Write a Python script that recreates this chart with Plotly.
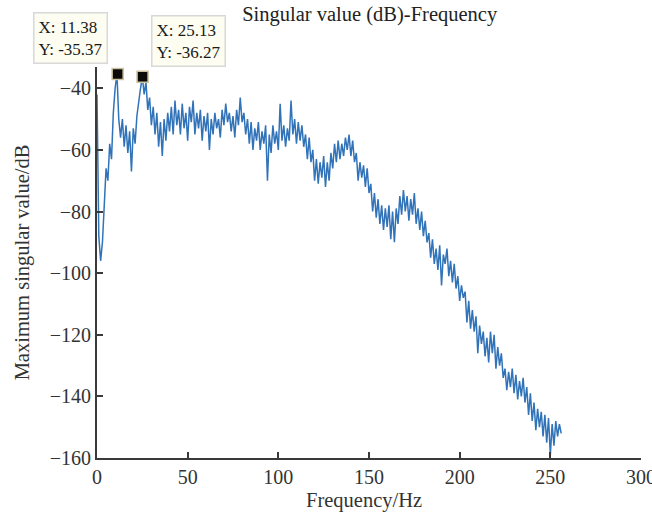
import plotly.graph_objects as go

# Frequency grid (Hz) and maximum singular value (dB)
freq_start = 0
freq_step = 1.0
sv_db = [
    -42, -88, -96, -90, -78, -66, -70, -58, -63, -48,
    -40, -35.4, -50, -56, -50, -59, -52, -61, -54, -67,
    -53, -58, -49, -44, -40, -36.3, -42, -38, -47, -43,
    -52, -46, -55, -48, -59, -51, -62, -50, -57, -48,
    -54, -46, -55, -44, -52, -47, -55, -45, -53, -48,
    -57, -46, -51, -44, -55, -48, -53, -47, -57, -49,
    -54, -48, -60, -50, -55, -48, -53, -50, -56, -47,
    -52, -45, -51, -48, -54, -49, -56, -47, -52, -43,
    -51, -48, -55, -50, -58, -51, -60, -53, -57, -51,
    -60, -54, -58, -52, -70, -55, -61, -52, -58, -54,
    -60, -45, -57, -52, -59, -53, -57, -44, -55, -50,
    -58, -51, -57, -52, -59, -55, -63, -56, -64, -60,
    -70, -63, -71, -64, -69, -62, -72, -64, -70, -61,
    -66, -58, -64, -57, -63, -58, -62, -56, -60, -55,
    -62, -57, -64, -61, -70, -64, -69, -65, -72, -66,
    -74, -71, -80, -74, -82, -76, -84, -78, -86, -79,
    -85, -78, -89, -80, -90, -79, -84, -75, -81, -73,
    -80, -75, -83, -76, -81, -74, -84, -79, -86, -80,
    -88, -83, -90, -87, -95, -89, -97, -92, -99, -91,
    -104, -94, -97, -92, -101, -96, -103, -97, -105, -101,
    -109, -104, -108, -106, -116, -109, -118, -112, -119, -114,
    -126, -117, -123, -119, -127, -121, -129, -119, -126, -120,
    -131, -124, -130, -126, -134, -131, -138, -132, -137, -131,
    -139, -133, -141, -135, -140, -134, -142, -137, -146, -139,
    -148, -142, -151, -144, -150, -145, -153, -146, -155, -147,
    -159, -149, -156, -148, -153, -149, -152,
]
freq_hz = [freq_start + i * freq_step for i in range(len(sv_db))]

# Data tips
tip_x = [11.38, 25.13]
tip_y = [-35.37, -36.27]

x_ticks = [0, 50, 100, 150, 200, 250, 300]
y_ticks = [-160, -140, -120, -100, -80, -60, -40]

FONT = "Liberation Serif"
AXIS_COLOR = "#3a3a3a"
TEXT_COLOR = "#333333"

fig = go.Figure()
fig.add_trace(go.Scatter(
    x=freq_hz, y=sv_db, mode="lines",
    line=dict(color="#3173b9", width=1.5),
    showlegend=False, hoverinfo="skip",
))
fig.add_trace(go.Scatter(
    x=tip_x, y=tip_y, mode="markers",
    marker=dict(symbol="square", size=11, color="#0a0a0a",
                line=dict(color="#c9c1a0", width=1.5)),
    showlegend=False, hoverinfo="skip",
))

# annotation boxes for the data tips
ann_pos = [(-0.1176, 1.1407), (0.0993, 1.133)]
for (px, py), tx, ty in zip(ann_pos, tip_x, tip_y):
    fig.add_annotation(
        xref="paper", yref="paper", x=px, y=py,
        xanchor="left", yanchor="top",
        text=f"X: {tx:.2f}<br>Y: {ty:.2f}",
        showarrow=False, align="left",
        font=dict(family=FONT, size=17, color="#1a1a1a"),
        bgcolor="#fdfdf2", bordercolor="#d8d8d8", borderwidth=1.5,
        borderpad=4,
    )

# x-axis title
fig.add_annotation(
    xref="paper", yref="paper", x=0.49, y=-0.109,
    xanchor="center", yanchor="middle", showarrow=False,
    text="Frequency/Hz",
    font=dict(family=FONT, size=20.5, color=TEXT_COLOR),
)

fig.update_layout(
    width=652, height=519,
    margin=dict(l=97, r=11, t=67, b=61, autoexpand=False),
    paper_bgcolor="white", plot_bgcolor="white",
    font=dict(family=FONT, size=20, color=TEXT_COLOR),
    title=dict(text="Singular value (dB)-Frequency", x=0.567, xanchor="center",
               y=0.973, yanchor="middle",
               font=dict(family=FONT, size=20.5, color="#222222")),
)
fig.update_xaxes(
    range=[0, 300], tickvals=x_ticks, ticktext=[str(v) for v in x_ticks],
    showgrid=False, zeroline=False, automargin=False,
    showline=True, linecolor=AXIS_COLOR, linewidth=2,
    ticks="inside", ticklen=6, tickwidth=2, tickcolor=AXIS_COLOR,
    ticklabeloverflow="allow",
    tickfont=dict(family=FONT, size=20, color=TEXT_COLOR),
)
fig.update_yaxes(
    range=[-160, -33.1], tickvals=y_ticks,
    showgrid=False, zeroline=False, automargin=False,
    showline=True, linecolor=AXIS_COLOR, linewidth=2,
    ticks="inside", ticklen=6, tickwidth=2, tickcolor=AXIS_COLOR,
    ticklabeloverflow="allow",
    tickfont=dict(family=FONT, size=20, color=TEXT_COLOR),
    title=dict(text="Maximum singular value/dB", font=dict(family=FONT, size=20.5, color=TEXT_COLOR), standoff=15),
)

fig.write_html("out.html")
